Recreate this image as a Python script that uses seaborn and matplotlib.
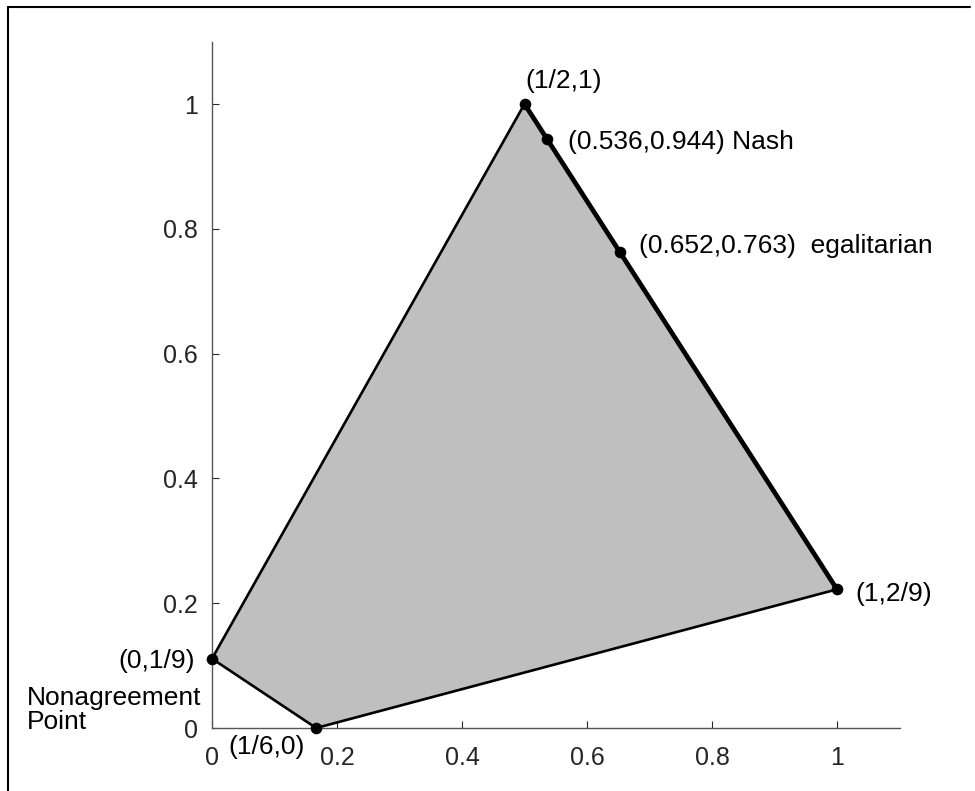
import matplotlib
matplotlib.use("Agg")
import matplotlib.pyplot as plt
import seaborn as sns
import pandas as pd
from matplotlib.lines import Line2D

# polygon vertices of the feasible set (in drawing order)
vert_x = [0, 1/6, 1, 1/2]
vert_y = [1/9, 0, 2/9, 1]

# Pareto frontier (thick edge)
front_x = [1/2, 1]
front_y = [1, 2/9]

# marked solution points
pt_x = [0, 1/6, 1, 1/2, 0.536, 0.652]
pt_y = [1/9, 0, 2/9, 1, 0.944, 0.763]
pt_labels = ["(0,1/9)", "(1/6,0)", "(1,2/9)", "(1/2,1)",
             "(0.536,0.944) Nash", "(0.652,0.763)  egalitarian"]

ticks = [0, 0.2, 0.4, 0.6, 0.8, 1]
tick_labels = ["0", "0.2", "0.4", "0.6", "0.8", "1"]

sns.set_style("ticks")
plt.rcParams['font.family'] = ['Liberation Sans', 'DejaVu Sans']
fs = 18     # tick labels
fs_txt = 19  # annotations
grey = '#262626'

fig = plt.figure(figsize=(9.75, 7.91), dpi=100)
ax = fig.add_axes([212/975, 63/791, 687.5/975, 686.4/791])

# filled region
ax.fill(vert_x, vert_y, color='#bfbfbf', lw=0, zorder=1)

# thin boundary
edges = pd.DataFrame({'x': vert_x + [vert_x[0]], 'y': vert_y + [vert_y[0]]})
sns.lineplot(data=edges, x='x', y='y', sort=False, estimator=None,
             color='black', lw=1.9, ax=ax, zorder=2)

# thick frontier
front = pd.DataFrame({'x': front_x, 'y': front_y})
sns.lineplot(data=front, x='x', y='y', sort=False, estimator=None,
             color='black', lw=3.4, ax=ax, zorder=3)

pts = pd.DataFrame({'x': pt_x, 'y': pt_y, 'label': pt_labels})
sns.scatterplot(data=pts, x='x', y='y', color='black', s=70,
                edgecolor='black', linewidth=0, ax=ax, zorder=4, clip_on=False)

# label offsets in points, alignment
offsets = {
    "(0,1/9)": ((-12, -2), 'right'),
    "(1/6,0)": ((-63, -13.5), 'left'),
    "(1,2/9)": ((13.5, -3.5), 'left'),
    "(1/2,1)": ((0.7, 16.5), 'left'),
    "(0.536,0.944) Nash": ((15, -2), 'left'),
    "(0.652,0.763)  egalitarian": ((14, 4.5), 'left'),
}
for x, y, lab in zip(pt_x, pt_y, pt_labels):
    (dx, dy), ha = offsets[lab]
    ax.annotate(lab, (x, y), xytext=(dx, dy), textcoords='offset points',
                ha=ha, va='center', fontsize=fs_txt, color='black')

# "Nonagreement Point" caption next to (0,1/9), one line per text
for line, dy in [("Nonagreement", -28.5), ("Point", -45.5)]:
    ax.annotate(line, (pt_x[0], pt_y[0]), xytext=(-133, dy),
                textcoords='offset points', ha='left', va='center',
                fontsize=fs_txt, color='black')

ax.set_xlim(0, 1.1)
ax.set_ylim(0, 1.1)
ax.set_xticks(ticks)
ax.set_xticklabels(tick_labels)
ax.set_yticks(ticks)
ax.set_yticklabels(tick_labels)
ax.set_xlabel("")
ax.set_ylabel("")
ax.tick_params(direction='in', length=5, width=0.8, colors=grey,
               labelsize=fs, labelcolor=grey)
ax.tick_params(axis='x', pad=13)
ax.tick_params(axis='y', pad=10)
sns.despine(ax=ax)
for s in ['left', 'bottom']:
    ax.spines[s].set_color('#555555')
    ax.spines[s].set_linewidth(1.0)

# outer frame (top and left edges visible)
fig.add_artist(Line2D([8/975, 970/975], [1 - 7/791, 1 - 7/791],
                      color='black', lw=1.5, transform=fig.transFigure))
fig.add_artist(Line2D([8/975, 8/975], [0, 1 - 7/791],
                      color='black', lw=1.5, transform=fig.transFigure))

fig.savefig('out.png', dpi=100)
